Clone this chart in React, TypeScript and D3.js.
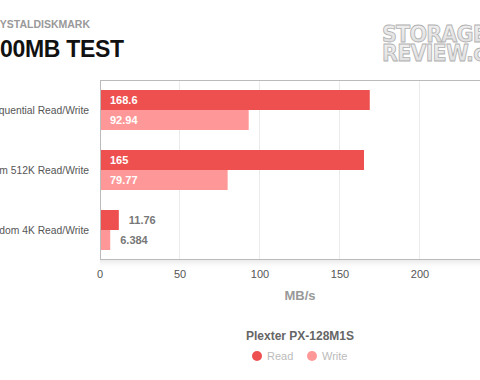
import React from "react";
import * as d3 from "d3";

const categories = ["Sequential Read/Write", "Random 512K Read/Write", "Random 4K Read/Write"];
const seriesNames = ["Read", "Write"];
const readValues = [168.6, 165, 11.76];
const writeValues = [92.94, 79.77, 6.384];
const valueLabels = [["168.6", "92.94"], ["165", "79.77"], ["11.76", "6.384"]];
const xTicks = [0, 50, 100, 150, 200, 250];
const colors = ["#ee5050", "#fe9898"];

const W = 480;
const H = 380;
const left = 100;
const right = 500;
const top = 80;
const bottom = 260;
const FONT = "'Liberation Sans', Arial, Helvetica, sans-serif";

export default function App() {
  const x = d3.scaleLinear().domain([0, 250]).range([left, right]);
  const y = d3.scaleBand<string>().domain(categories).range([top, bottom]).padding(0);
  const sub = d3
    .scaleBand<string>()
    .domain(seriesNames)
    .range([0, y.bandwidth()])
    .paddingInner(0)
    .paddingOuter(0.5);
  const series = [readValues, writeValues];

  return (
    <svg
      width={W}
      height={H}
      style={{ position: "absolute", left: 0, top: 0, background: "#fff" }}
      fontFamily={FONT}
    >
      <defs>
        <linearGradient id="shadow" x1="0" y1="0" x2="0" y2="1">
          <stop offset="0%" stopColor="#e8e8e8" stopOpacity={0.9} />
          <stop offset="100%" stopColor="#ffffff" stopOpacity={0} />
        </linearGradient>
        <linearGradient id="logoFill" x1="0" y1="0" x2="0" y2="1">
          <stop offset="0%" stopColor="#f2f2f2" />
          <stop offset="100%" stopColor="#dcdcdc" />
        </linearGradient>
      </defs>
      <rect x={0} y={0} width={W} height={H} fill="#fff" />

      {/* titles */}
      <text x={-15} y={28} fontSize={10.5} fontWeight="bold" fill="#999">
        CRYSTALDISKMARK
      </text>
      <text x={-25} y={57} fontSize={23} fontWeight="bold" fill="#111" letterSpacing={-0.3}>
        1000MB TEST
      </text>

      {/* logo */}
      <g
        fontFamily="'Liberation Sans Narrow', 'DejaVu Sans Condensed', Arial, sans-serif"
        fontWeight="bold"
        fill="url(#logoFill)"
        stroke="#b0b0b0"
        strokeWidth={0.8}
      >
        <text x={382} y={42} fontSize={23} letterSpacing={-0.8}>
          STORAGE
        </text>
        <text x={382} y={61} fontSize={23} letterSpacing={-0.8}>
          REVIEW.com
        </text>
      </g>

      {/* shadow below axis */}
      <rect x={left} y={bottom} width={right - left} height={10} fill="url(#shadow)" />

      {/* gridlines */}
      {xTicks.slice(1).map((t) => (
        <line
          key={t}
          x1={Math.round(x(t)) - 0.5}
          x2={Math.round(x(t)) - 0.5}
          y1={top}
          y2={bottom - 1}
          stroke="#ebebeb"
          strokeWidth={1}
        />
      ))}

      {/* bars */}
      {categories.map((c, i) => (
        <g key={c}>
          {seriesNames.map((s, j) => {
            const v = series[j][i];
            const by = (y(c) as number) + (sub(s) as number);
            const bw = x(v) - x(0);
            const bh = sub.bandwidth();
            const inside = bw > 40;
            return (
              <g key={s}>
                <rect x={x(0)} y={by} width={bw} height={bh} fill={colors[j]} />
                <text
                  x={inside ? x(0) + 10 : x(v) + 10}
                  y={by + bh / 2 + 4}
                  fontSize={11}
                  fontWeight="bold"
                  fill={inside ? "#fff" : "#777"}
                >
                  {valueLabels[i][j]}
                </text>
              </g>
            );
          })}
          <text
            x={89}
            y={(y(c) as number) + y.bandwidth() / 2 + 3.5}
            fontSize={10.3}
            textAnchor="end"
            fill="#555"
          >
            {c}
          </text>
        </g>
      ))}

      {/* frame */}
      <line x1={left} x2={W} y1={top + 0.5} y2={top + 0.5} stroke="#bbb" />
      <line x1={left} x2={W} y1={bottom - 0.5} y2={bottom - 0.5} stroke="#bbb" />
      <line x1={left + 0.5} x2={left + 0.5} y1={top} y2={bottom} stroke="#bbb" />

      {/* x tick labels */}
      {xTicks.map((t) => (
        <text key={t} x={x(t)} y={278} fontSize={11} textAnchor="middle" fill="#555">
          {t}
        </text>
      ))}
      <text x={(left + right) / 2} y={300} fontSize={13} fontWeight="bold" textAnchor="middle" fill="#999">
        MB/s
      </text>

      {/* legend */}
      <text x={300} y={340} fontSize={12} fontWeight="bold" textAnchor="middle" fill="#666">
        Plexter PX-128M1S
      </text>
      {seriesNames.map((s, j) => (
        <g key={s} transform={`translate(${257 + j * 55}, 356)`}>
          <circle r={5} fill={colors[j]} />
          <text x={10} y={3.5} fontSize={11} fill="#bbb">
            {s}
          </text>
        </g>
      ))}
    </svg>
  );
}
